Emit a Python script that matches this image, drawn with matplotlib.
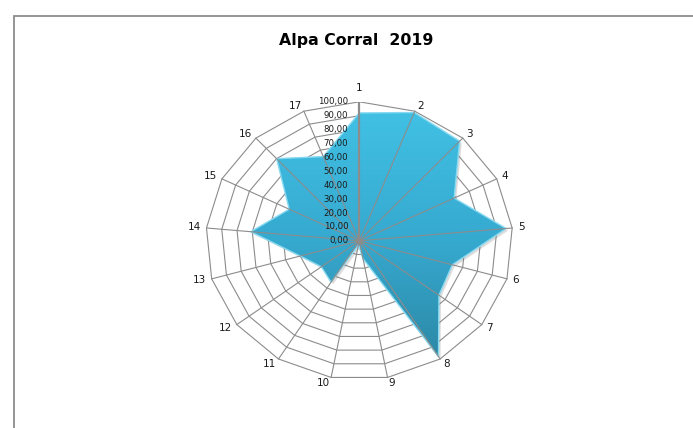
import numpy as np
import matplotlib.pyplot as plt
import matplotlib.transforms as mtransforms
from matplotlib.patches import Polygon, Rectangle
from matplotlib.colors import LinearSegmentedColormap

# Radar data: one value per station (0-100)
categories = [str(i) for i in range(1, 18)]
values = [92, 99, 97, 69, 96, 63, 65, 98, 13, 3, 35, 31, 40, 71, 51, 80, 65]
ring_levels = list(range(0, 101, 10))
tick_labels = [f"{v:.2f}".replace(".", ",") for v in ring_levels]
title = "Alpa Corral  2019"

grid_color = "#8c8c8c"

fig = plt.figure(figsize=(6.93, 4.28), dpi=100)

# chart-area frame (runs off the right and bottom edge)
fig.add_artist(Rectangle((14 / 693, -0.2), 1.2, (1 - 16 / 428) + 0.2,
                         transform=fig.transFigure, fill=False,
                         edgecolor="#8c8c8c", lw=1.3))

fig.text(356 / 693, 1 - 40 / 428, title, ha="center", va="center",
         fontsize=11.3, fontweight="bold")

ax = fig.add_axes([0.2970, 0.1126, 0.4430, 0.6495])

n = len(values)
theta = 2 * np.pi * np.arange(n) / n
sx, sy = np.sin(theta), np.cos(theta)
vals = np.array(values, dtype=float)

# polygonal grid rings
for lev in ring_levels[1:]:
    ax.plot(lev * np.append(sx, sx[0]), lev * np.append(sy, sy[0]),
            color=grid_color, lw=0.8, zorder=1)

xy = np.column_stack([vals * sx, vals * sy])

# soft drop shadow
shift = mtransforms.ScaledTranslation(1.5 / 72, -1.5 / 72, fig.dpi_scale_trans)
ax.add_patch(Polygon(xy, closed=True, facecolor="#7a7a7a", edgecolor="none",
                     alpha=0.25, transform=ax.transData + shift, zorder=2))

# gradient fill clipped to the data polygon
area = Polygon(xy, closed=True, facecolor="none", edgecolor="none")
ax.add_patch(area)
cmap = LinearSegmentedColormap.from_list("fill", ["#2a839f", "#36a9cf", "#42c2e6"])
grad = np.linspace(1, 0, 256).reshape(-1, 1)
im = ax.imshow(grad, extent=[-100, 100, -100, 100], aspect="auto",
               cmap=cmap, zorder=3, interpolation="bilinear")
im.set_clip_path(area)

ax.add_patch(Polygon(xy, closed=True, fill=False, edgecolor="#86d9f0",
                     lw=1.0, joinstyle="miter", zorder=4))

# spokes drawn over the fill
for i in range(n):
    ax.plot([0, 100 * sx[i]], [0, 100 * sy[i]], color=grid_color,
            lw=1.6 if i == 0 else 0.8, zorder=5)
ax.plot(0, 0, "o", color=grid_color, ms=4, zorder=6)

# category labels around the outer ring
for i, lab in enumerate(categories):
    s, c = sx[i], sy[i]
    ha = "left" if s > 0.05 else ("right" if s < -0.05 else "center")
    top = c > 0.97
    va = "bottom" if top else "center"
    gap = 6 if top else 4
    ax.annotate(lab, (100 * s, 100 * c), xytext=(gap * s, gap * c),
                textcoords="offset points", ha=ha, va=va, fontsize=7.5,
                color="#1a1a1a", zorder=7)

# value scale along the first spoke
for lev, lab in zip(ring_levels, tick_labels):
    ax.annotate(lab, (0, lev), xytext=(-8, 0), textcoords="offset points",
                ha="right", va="center", fontsize=6.2, color="#1a1a1a",
                zorder=7)

ax.set_xlim(-100, 100)
ax.set_ylim(-100, 100)
ax.axis("off")

fig.savefig("out.png", dpi=100)
